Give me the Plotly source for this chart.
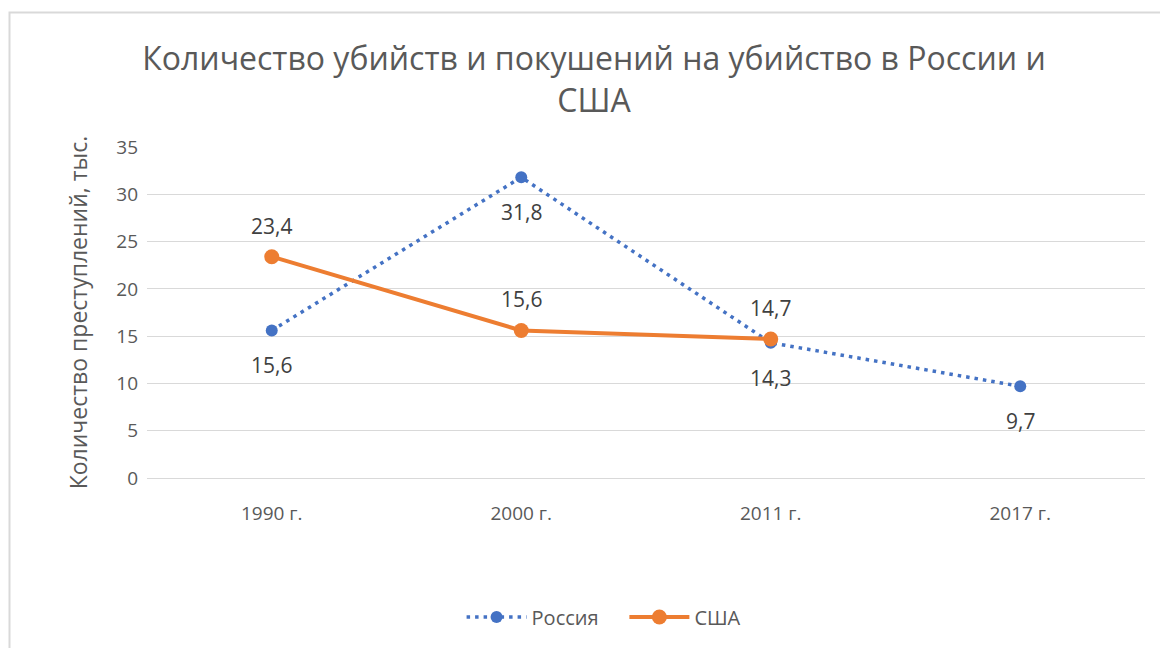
import plotly.graph_objects as go

categories = ["1990 г.", "2000 г.", "2011 г.", "2017 г."]
russia = [15.6, 31.8, 14.3, 9.7]
usa = [23.4, 15.6, 14.7]
usa_cats = categories[:3]

title = "Количество убийств и покушений на убийство в России и<br>США"
y_title = "Количество преступлений, тыс."

FONT = "Open Sans, sans-serif"
BLUE = "#4472C4"
ORANGE = "#ED7D31"
TXT = "#404040"
GRAY = "#595959"

# the page body has an 8px margin; margins below compensate for it
OFF = 8

fig = go.Figure()
fig.add_trace(go.Scatter(
    x=categories, y=russia, name="Россия\u00a0\u00a0\u00a0\u00a0", mode="lines+markers",
    line=dict(color=BLUE, width=3.5, dash="3.5px,5px"),
    marker=dict(color=BLUE, size=12, symbol="circle"),
))
fig.add_trace(go.Scatter(
    x=usa_cats, y=usa, name="США", mode="lines+markers",
    line=dict(color=ORANGE, width=4),
    marker=dict(color=ORANGE, size=15, symbol="circle"),
))

def fmt(v):
    return f"{v:.1f}".replace(".", ",")

for c, v in zip(categories, russia):
    fig.add_annotation(x=c, y=v, text=fmt(v), showarrow=False, yshift=-35,
                       font=dict(family=FONT, size=21, color=TXT))
for c, v in zip(usa_cats, usa):
    fig.add_annotation(x=c, y=v, text=fmt(v), showarrow=False, yshift=31,
                       font=dict(family=FONT, size=21, color=TXT))

fig.add_shape(type="rect", xref="paper", yref="paper",
              x0=(9.5 - 147) / 998, x1=1.2, y0=-0.8, y1=(478 - 12.5) / 331,
              line=dict(color="#d9d9d9", width=2), fillcolor="rgba(0,0,0,0)", layer="below")

fig.update_layout(
    width=1168, height=648,
    margin=dict(l=147 - OFF, r=23 + OFF, t=147 - OFF, b=170 + OFF),
    paper_bgcolor="white", plot_bgcolor="white",
    font=dict(family=FONT, color=GRAY),
    title=dict(text=title, x=(594 - OFF) / 1168, xanchor="center",
               y=1 - (70 - OFF) / 648, yanchor="middle",
               font=dict(family=FONT, size=32, color=GRAY)),
    xaxis=dict(range=[-0.5, 3.5], showgrid=False, showline=False, ticks="",
               ticklabelstandoff=22,
               tickfont=dict(size=19, color=GRAY)),
    yaxis=dict(range=[0, 35], dtick=5, showgrid=True, gridcolor="#d9d9d9", gridwidth=1,
               zeroline=True, zerolinecolor="#d9d9d9", zerolinewidth=1,
               showline=False, ticks="", ticklabelstandoff=8,
               tickfont=dict(size=19, color=GRAY),
               title=dict(text=y_title, standoff=22, font=dict(size=23, color=GRAY))),
    legend=dict(orientation="h", x=0.458, xanchor="center",
                y=-(617 - 478) / 331, yanchor="middle",
                font=dict(size=20, color=GRAY), itemwidth=60),
    showlegend=True,
)

fig.write_html("out.html")
